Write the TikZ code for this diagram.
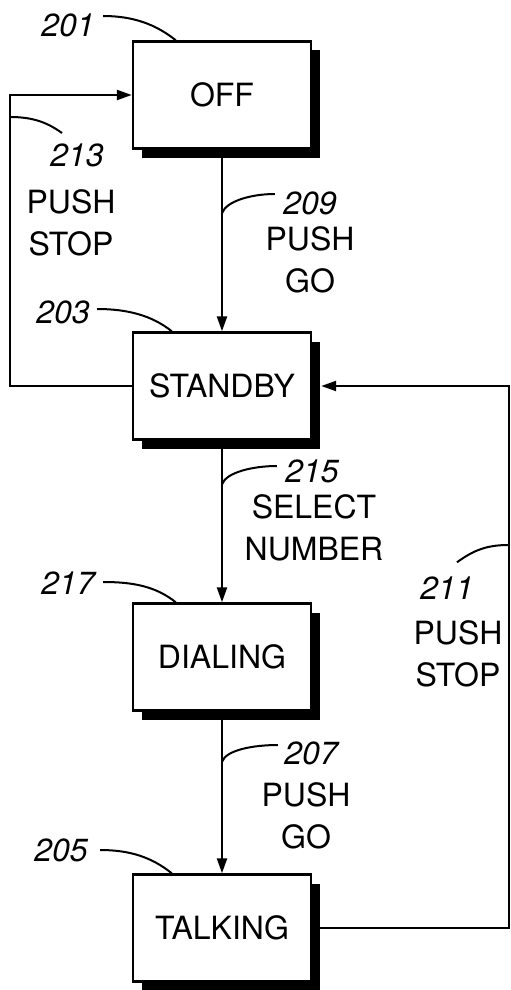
\documentclass[tikz,border=0pt]{standalone}
\usepackage{fontspec}
\setmainfont{TeX Gyre Heros}
\usetikzlibrary{arrows.meta,shadows}

\begin{document}
\begin{tikzpicture}[x=0.5pt,y=-0.5pt,font=\fontsize{16}{21}\selectfont,
    statebox/.style={draw,line width=1.2pt,fill=white,minimum width=89pt,minimum height=53.5pt,
      drop shadow={shadow xshift=4.5pt,shadow yshift=-4.5pt,fill=black,opacity=1}},
    numlbl/.style={font=\fontsize{16}{21}\selectfont\itshape,inner sep=0pt},
    cond/.style={align=center,inner sep=0pt},
    arr/.style={line width=1.2pt,-{Triangle[length=7.5pt,width=5pt]}},
    lead/.style={line width=1pt}]
    \useasboundingbox (0,0) rectangle (510,990);
    \node[statebox] (off) at (222,95){OFF};
    \node[statebox] (standby) at (222,386){STANDBY};
    \node[statebox] (dialing) at (222,657){DIALING};
    \node[statebox] (talking) at (222,928){TALKING};
    \node[numlbl] (n201) at (68,25){201};
    \node[numlbl] (n213) at (77,155){213};
    \node[numlbl] (n203) at (63,312){203};
    \node[numlbl] (n209) at (310,203){209};
    \node[numlbl] (n215) at (312,471){215};
    \node[numlbl] (n217) at (68,583){217};
    \node[numlbl] (n211) at (447,588){211};
    \node[numlbl] (n207) at (311,753){207};
    \node[numlbl] (n205) at (61,850){205};
    \node[cond] (stop213) at (71,223){PUSH\\STOP};
    \node[cond] (go209) at (310,260){PUSH\\GO};
    \node[cond] (sel215) at (314,528){SELECT\\NUMBER};
    \node[cond] (stop211) at (458,654){PUSH\\STOP};
    \node[cond] (go207) at (306,816){PUSH\\GO};
    \draw[arr] (off) -- coordinate[pos=0.35] (c209) (standby);
    \draw[arr] (standby) -- coordinate[pos=0.27] (c215) (dialing);
    \draw[arr] (dialing) -- coordinate[pos=0.31] (c207) (talking);
    \draw[arr] (standby.west) -- ++(-122,0) |- (off.west);
    \draw[arr] (talking.east) -- ++(197,0) |- ([xshift=4.5pt]standby.east);
    \coordinate (c213) at (10,117);
    \coordinate (c211) at (508,545);
    \draw[lead] ([xshift=4pt,yshift=4.5pt]n201.east) .. controls +(15pt,0pt) and +(-10pt,8pt) .. ([xshift=22pt]off.north west);
    \draw[lead] ([xshift=3.5pt,yshift=1.5pt]n203.east) .. controls +(15pt,0pt) and +(-10pt,8pt) .. ([xshift=20pt]standby.north west);
    \draw[lead] ([xshift=4pt,yshift=0.5pt]n217.east) .. controls +(15pt,0pt) and +(-10pt,8pt) .. ([xshift=22pt]dialing.north west);
    \draw[lead] ([xshift=6pt]n205.east) .. controls +(15pt,0pt) and +(-10pt,8pt) .. ([xshift=20pt]talking.north west);
    \draw[lead] (c213) .. controls +(12pt,0pt) and +(-7pt,5pt) .. ([xshift=-7.5pt,yshift=5pt]n213.north);
    \draw[lead] (c211) .. controls +(-12pt,0pt) and +(7pt,5pt) .. ([xshift=5pt,yshift=7pt]n211.north);
    \draw[lead] (c209) .. controls +(2pt,6pt) and +(-12pt,0pt) .. ([xshift=-4pt,yshift=4.5pt]n209.west);
    \draw[lead] (c215) .. controls +(2pt,6pt) and +(-12pt,0pt) .. ([xshift=-4pt,yshift=2.5pt]n215.west);
    \draw[lead] (c207) .. controls +(2pt,6pt) and +(-12pt,0pt) .. ([xshift=-3pt,yshift=4pt]n207.west);
  \end{tikzpicture}
\end{document}
